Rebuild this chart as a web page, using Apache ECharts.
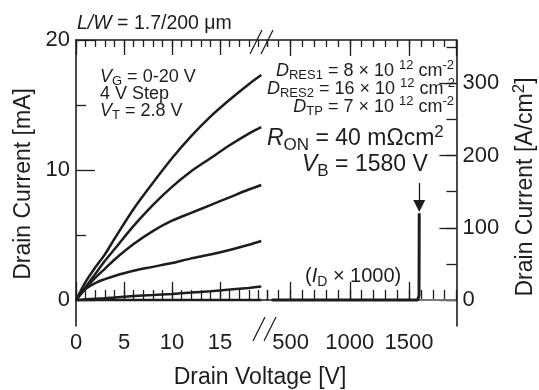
<!DOCTYPE html>
<html>
<head>
<meta charset="utf-8">
<script src="https://cdn.jsdelivr.net/npm/echarts@6.0.0/dist/echarts.min.js"></script>
<style>
  html, body { margin: 0; padding: 0; background: #fff; }
  #chart { width: 539px; height: 390px; }
</style>
</head>
<body>
<div id="chart"></div>
<script>
// output curves at low drain voltage, V_G = 0..20 V, 4 V step (mA)
const vdLow = [0, 1, 2, 3, 4, 6, 8, 10, 12, 14, 16, 18, 19.3];
const idVg20 = [0, 1.4, 2.5, 3.5, 4.7, 7.0, 9.0, 10.9, 12.6, 14.1, 15.4, 16.6, 17.3];
const idVg16 = [0, 1.0, 2.0, 3.0, 3.9, 5.7, 7.3, 8.7, 9.9, 10.9, 11.9, 12.8, 13.3];
const idVg12 = [0, 0.9, 1.7, 2.4, 3.1, 4.3, 5.3, 6.1, 6.7, 7.3, 7.9, 8.5, 8.85];
const idVg8 = [0, 0.85, 1.3, 1.6, 1.85, 2.25, 2.55, 2.85, 3.2, 3.5, 3.85, 4.25, 4.54];
const idVg4 = [0, 0.05, 0.1, 0.14, 0.2, 0.3, 0.38, 0.47, 0.57, 0.68, 0.8, 0.93, 1.03];
const idVg0 = [0, 0, 0, 0, 0, 0, 0, 0, 0, 0, 0, 0, 0];

// off-state / breakdown (I_D x 1000), right axis in A/cm2
const vdHigh = [340, 1572, 1584, 1586];
const jdHigh = [0, 0, 6, 120];
const vdTail = [1590, 1895];
const jdTail = [0, 0];
const arrowV = [1586, 1586];
const arrowJ = [162, 130];

// axis ranges
const lowX = [0, 19.9];      // V, left panel
const highX = [300, 1900];   // V, right panel
const leftY = [-2, 20];      // mA
const rightY = [-36, 360];   // A/cm2

const INK = '#1d1d1d';
const FONT = "'Liberation Sans', Arial, sans-serif";

// pixel mapping of the two panels (layout only)
const lx = v => 76 + 9.6 * v;
const rx = v => 231.3 + 0.1185 * v;
const ly = v => 300 - 13 * v;
const ry = v => 300 - v * 13 / 18;

function box(x0, x1, y0, y1) {
  return { left: x0, width: x1 - x0, top: y1, height: y0 - y1, containLabel: false };
}

const grids = [
  box(lx(lowX[0]), lx(lowX[1]), ly(leftY[0]), ly(leftY[1])),   // 0 left data
  box(lx(0), lx(15), ly(leftY[0]), ly(leftY[1])),               // 1 left major x ticks
  box(lx(lowX[0]), lx(lowX[1]), ly(0), ly(20)),                 // 2 left y ticks
  box(rx(highX[0]), rx(highX[1]), ry(rightY[0]), ry(rightY[1])),// 3 right data
  box(rx(500), rx(1900), ry(rightY[0]), ry(rightY[1])),         // 4 right major x ticks
  box(rx(highX[0]), rx(highX[1]), ry(0), ry(300)),              // 5 right y major
  box(rx(highX[0]), rx(highX[1]), ry(0), ry(350))               // 6 right y minor
];

const lineSt = { color: INK, width: 1.6 };
const tickSt = { color: INK, width: 1.3 };
const lab = { fontSize: 22, fontFamily: FONT, color: INK, formatter: v => String(v) };

function xa(grid, pos, min, max, interval, len, labels, line) {
  return {
    type: 'value', gridIndex: grid, position: pos, min, max, interval,
    axisLine: { show: line, lineStyle: lineSt },
    axisTick: { show: true, inside: true, length: len, lineStyle: tickSt },
    axisLabel: labels ? Object.assign({ show: true, margin: 6, showMaxLabel: max % interval === 0 }, lab) : { show: false },
    splitLine: { show: false }
  };
}
const hidden = (grid, min, max) => ({ type: 'value', gridIndex: grid, min, max, show: false });

const xAxis = [
  xa(0, 'bottom', lowX[0], lowX[1], 1, 10, false, true),
  xa(0, 'top', lowX[0], lowX[1], 1, 7, false, true),
  xa(1, 'bottom', 0, 15, 5, 18, true, false),
  xa(1, 'top', 0, 15, 5, 15, false, false),
  hidden(2, lowX[0], lowX[1]),
  xa(3, 'bottom', highX[0], highX[1], 100, 10, false, true),
  xa(3, 'top', highX[0], highX[1], 100, 7, false, true),
  xa(4, 'bottom', 500, 1900, 500, 18, true, false),
  xa(4, 'top', 500, 1900, 500, 16, false, false),
  hidden(5, highX[0], highX[1]),
  hidden(6, highX[0], highX[1])
];

const yAxis = [
  { type: 'value', gridIndex: 0, position: 'left', min: leftY[0], max: leftY[1],
    axisLine: { show: true, lineStyle: lineSt }, axisTick: { show: false }, axisLabel: { show: false }, splitLine: { show: false } },
  hidden(1, leftY[0], leftY[1]),
  { type: 'value', gridIndex: 2, position: 'left', min: 0, max: 20, interval: 10,
    axisLine: { show: false },
    axisTick: { show: true, inside: true, length: 19, lineStyle: tickSt },
    minorTick: { show: true, splitNumber: 2, length: 10, lineStyle: tickSt },
    axisLabel: Object.assign({ margin: 6 }, lab), splitLine: { show: false }, minorSplitLine: { show: false } },
  { type: 'value', gridIndex: 3, position: 'right', min: rightY[0], max: rightY[1],
    axisLine: { show: true, lineStyle: lineSt }, axisTick: { show: false }, axisLabel: { show: false }, splitLine: { show: false } },
  hidden(4, rightY[0], rightY[1]),
  { type: 'value', gridIndex: 5, position: 'right', min: 0, max: 300, interval: 100,
    axisLine: { show: false },
    axisTick: { show: true, inside: true, length: 17, lineStyle: tickSt },
    axisLabel: Object.assign({ margin: 6 }, lab), splitLine: { show: false } },
  { type: 'value', gridIndex: 6, position: 'right', min: 0, max: 350, interval: 50,
    axisLine: { show: false },
    axisTick: { show: true, inside: true, length: 10, lineStyle: tickSt },
    axisLabel: { show: false }, splitLine: { show: false } }
];

const zip = (xs, ys) => xs.map((x, i) => [x, ys[i]]);

function curve(ys) {
  return {
    type: 'line', xAxisIndex: 0, yAxisIndex: 0, data: zip(vdLow, ys),
    showSymbol: false, smooth: 0.3, silent: true,
    lineStyle: { color: INK, width: 2.5 }
  };
}

const series = [idVg0, idVg4, idVg8, idVg12, idVg16, idVg20].map(curve);
series.push({
  type: 'line', xAxisIndex: 5, yAxisIndex: 3, data: zip(vdHigh, jdHigh),
  showSymbol: false, silent: true, lineStyle: { color: INK, width: 3 },
  markLine: {
    silent: true, symbol: ['none', 'triangle'], symbolSize: 12,
    lineStyle: { color: INK, width: 1.3, type: 'solid' },
    label: { show: false },
    data: [[{ coord: [arrowV[0], arrowJ[0]] }, { coord: [arrowV[1], arrowJ[1]] }]]
  }
});
// dotted continuation beyond breakdown (dashes don't show here, so a light thin line)
series.push({
  type: 'line', xAxisIndex: 5, yAxisIndex: 3, data: zip(vdTail, jdTail),
  showSymbol: false, silent: true, z: 8,
  lineStyle: { color: '#8a8a8a', width: 1.5 }
});

// rich text with italics, subscripts and superscripts
function rt(x, yBase, str, fs, align) {
  const s = Math.round(fs * 0.72);
  const lh = Math.round(fs * 1.3);
  const base = { fontSize: fs, fontFamily: FONT, fill: INK, lineHeight: lh };
  return {
    type: 'text', x: x, y: yBase - (lh / 2 + 0.35 * fs), silent: true, z: 10,
    style: {
      text: str, align: align || 'left', verticalAlign: 'top',
      fontSize: fs, fontFamily: FONT, fill: INK,
      rich: {
        n: base,
        i: Object.assign({}, base, { fontStyle: 'italic' }),
        sub: { fontSize: s, fontFamily: FONT, fill: INK, lineHeight: Math.round(s * 0.85), verticalAlign: 'bottom' },
        sup: { fontSize: s, fontFamily: FONT, fill: INK, lineHeight: Math.round(s * 1.15), verticalAlign: 'top' }
      }
    }
  };
}

function slash(cx, cy) {
  return { type: 'line', silent: true, z: 10, shape: { x1: cx - 6, y1: cy + 12, x2: cx + 6, y2: cy - 12 },
    style: { stroke: INK, lineWidth: 1.3 } };
}

function name(x, y, str, rot) {
  const item = rt(0, 0, str, 23, 'center');
  item.x = x; item.y = y; item.rotation = rot;
  item.style.verticalAlign = 'middle';
  return item;
}

const graphic = [
  slash(256, 42), slash(267, 42), slash(259, 329), slash(270, 329),
  rt(77, 30, '{i|L/W}{n| = 1.7/200 μm}', 19.5),
  rt(100, 83, '{i|V}{sub|G}{n| = 0-20 V}', 18),
  rt(100, 100, '{n|4 V Step}', 18),
  rt(100, 117, '{i|V}{sub|T}{n| = 2.8 V}', 18),
  rt(454, 77, '{i|D}{sub|RES1}{n| = 8 × 10 }{sup|12}{n| cm}{sup|-2}', 18, 'right'),
  rt(455, 95, '{i|D}{sub|RES2}{n| = 16 × 10 }{sup|12}{n| cm}{sup|-2}', 18, 'right'),
  rt(454, 113, '{i|D}{sub|TP}{n| = 7 × 10 }{sup|12}{n| cm}{sup|-2}', 18, 'right'),
  rt(267, 147, '{i|R}{sub|ON}{n| = 40 mΩcm}{sup|2}', 23),
  rt(302, 173, '{i|V}{sub|B}{n| = 1580 V}', 23),
  rt(305, 283, '{n|(}{i|I}{sub|D}{n| × 1000)}', 20),
  name(260, 378, '{n|Drain Voltage [V]}', 0),
  name(24, 184, '{n|Drain Current [mA]}', Math.PI / 2),
  name(526, 187, '{n|Drain Current [A/cm}{sup|2}{n|]}', Math.PI / 2)
];

const chart = echarts.init(document.getElementById('chart'), null, { renderer: 'canvas' });
chart.setOption({
  animation: false,
  backgroundColor: '#fff',
  grid: grids,
  xAxis: xAxis,
  yAxis: yAxis,
  series: series,
  graphic: graphic
});
</script>
</body>
</html>
